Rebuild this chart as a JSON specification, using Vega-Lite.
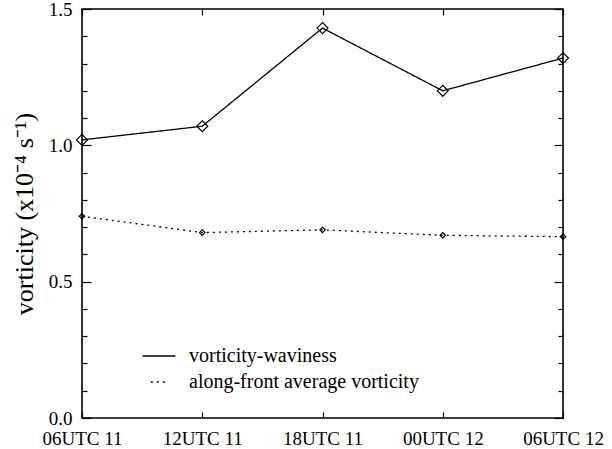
{
  "$schema": "https://vega.github.io/schema/vega-lite/v6.json",
  "width": 481,
  "height": 409,
  "autosize": {"type": "none"},
  "padding": {"left": 82, "top": 9, "right": 49, "bottom": 31},
  "background": "white",
  "config": {
    "font": "Liberation Serif",
    "view": {"stroke": "black", "strokeWidth": 1.6},
    "axis": {
      "domain": false,
      "grid": false,
      "tickColor": "black",
      "tickWidth": 1.2,
      "labelColor": "black",
      "titleColor": "black",
      "labelFont": "Liberation Serif",
      "titleFont": "Liberation Serif",
      "labelFontSize": 19,
      "titleFontSize": 26,
      "titleFontWeight": "normal"
    }
  },
  "data": {
    "values": [
      {"time": "06UTC 11", "series": "vorticity-waviness", "value": 1.02},
      {"time": "12UTC 11", "series": "vorticity-waviness", "value": 1.07},
      {"time": "18UTC 11", "series": "vorticity-waviness", "value": 1.43},
      {"time": "00UTC 12", "series": "vorticity-waviness", "value": 1.2},
      {"time": "06UTC 12", "series": "vorticity-waviness", "value": 1.32},
      {"time": "06UTC 11", "series": "along-front average vorticity", "value": 0.74},
      {"time": "12UTC 11", "series": "along-front average vorticity", "value": 0.68},
      {"time": "18UTC 11", "series": "along-front average vorticity", "value": 0.69},
      {"time": "00UTC 12", "series": "along-front average vorticity", "value": 0.67},
      {"time": "06UTC 12", "series": "along-front average vorticity", "value": 0.665}
    ]
  },
  "resolve": {"axis": {"x": "independent", "y": "independent"}},
  "layer": [
    {
      "mark": {"type": "line", "color": "black", "strokeWidth": 1.3},
      "encoding": {
        "x": {
          "field": "time", "type": "ordinal", "sort": null,
          "scale": {"type": "point", "padding": 0},
          "axis": {"orient": "bottom", "title": null, "labelAngle": 0, "tickSize": 6, "offset": -6, "labelPadding": 11}
        },
        "y": {
          "field": "value", "type": "quantitative",
          "scale": {"domain": [0, 1.5], "nice": false, "zero": true},
          "axis": {"orient": "left", "values": [0, 0.5, 1, 1.5], "format": ".1f", "tickSize": 9, "offset": -9, "labelPadding": 10, "labelOffset": 0, "title": "vorticity (x10⁻⁴ s⁻¹)", "titlePadding": 11}
        },
        "strokeDash": {
          "field": "series", "type": "nominal",
          "scale": {"domain": ["vorticity-waviness", "along-front average vorticity"], "range": [[1, 0], [2, 4]]},
          "legend": {
            "orient": "none", "legendX": 67, "legendY": 337, "title": null,
            "symbolType": "M-3,0H3", "symbolSize": 100, "symbolStrokeWidth": 1.3, "symbolStrokeColor": "black",
            "labelFont": "Liberation Serif", "labelFontSize": 20, "labelColor": "black", "labelOffset": 20, "labelLimit": 0, "rowPadding": 6
          }
        }
      }
    },
    {
      "mark": {"type": "point", "shape": "diamond", "filled": false, "color": "black", "strokeWidth": 1.2, "opacity": 1},
      "encoding": {
        "x": {
          "field": "time", "type": "ordinal", "sort": null,
          "axis": {"orient": "top", "title": null, "labels": false, "tickSize": 6, "offset": -6}
        },
        "y": {
          "field": "value", "type": "quantitative",
          "axis": {"orient": "right", "values": [0, 0.5, 1, 1.5], "labels": false, "tickSize": 9, "offset": -9, "title": null}
        },
        "size": {
          "field": "series", "type": "nominal",
          "scale": {"domain": ["vorticity-waviness", "along-front average vorticity"], "range": [120, 30]},
          "legend": null
        }
      }
    },
    {
      "mark": {"type": "point", "opacity": 0},
      "encoding": {
        "x": {"field": "time", "type": "ordinal", "sort": null, "axis": null},
        "y": {
          "field": "value", "type": "quantitative",
          "axis": {"orient": "left", "values": [0.1, 0.2, 0.3, 0.4, 0.6, 0.7, 0.8, 0.9, 1.1, 1.2, 1.3, 1.4], "labels": false, "tickSize": 5, "offset": -5, "title": null}
        }
      }
    },
    {
      "mark": {"type": "point", "opacity": 0},
      "encoding": {
        "x": {"field": "time", "type": "ordinal", "sort": null, "axis": null},
        "y": {
          "field": "value", "type": "quantitative",
          "axis": {"orient": "right", "values": [0.1, 0.2, 0.3, 0.4, 0.6, 0.7, 0.8, 0.9, 1.1, 1.2, 1.3, 1.4], "labels": false, "tickSize": 5, "offset": -5, "title": null}
        }
      }
    }
  ]
}
